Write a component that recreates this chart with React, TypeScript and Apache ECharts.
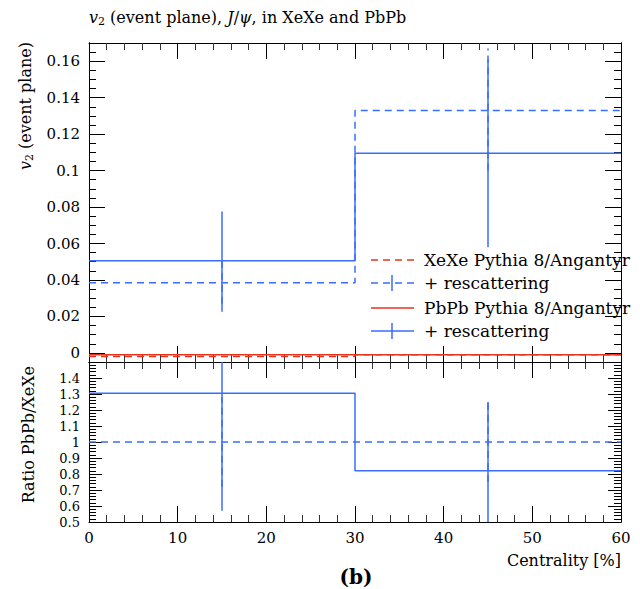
import React, { useEffect, useRef } from "react";
import * as echarts from "echarts";

// ---------- data ----------
const X_EDGES = [0, 30, 60];
const BIN_CENTERS = [15, 45];
const XEXE_PYTHIA = [-0.002, -0.001];
const PBPB_PYTHIA = [-0.001, -0.001];
const XEXE_RESC = [0.0385, 0.133];
const XEXE_RESC_ERR = [[0.027, 0.05], [0.1, 0.167]];
const PBPB_RESC = [0.0505, 0.1095];
const PBPB_RESC_ERR = [[0.0225, 0.0775], [0.058, 0.161]];
const RATIO_XEXE = [1, 1];
const RATIO_XEXE_ERR = [[0.72, 1.28], [0.75, 1.25]];
const RATIO_PBPB = [1.305, 0.82];
const RATIO_PBPB_ERR = [[0.57, 1.9], [0.45, 1.25]];
const MAIN_Y_TICKS = [0, 0.02, 0.04, 0.06, 0.08, 0.1, 0.12, 0.14, 0.16];
const RATIO_Y_TICKS = [0.5, 0.6, 0.7, 0.8, 0.9, 1, 1.1, 1.2, 1.3, 1.4];
const X_TICKS_STEP = 10;
const LEGEND_LABELS = ["XeXe Pythia 8/Angantyr", "+ rescattering", "PbPb Pythia 8/Angantyr", "+ rescattering"];

const MAIN_Y_RANGE = [-0.005, 0.17];
const RATIO_Y_RANGE = [0.5, 1.5];

const RED = "#e8341c";
const BLUE = "#3a6cff";
const FONT = "DejaVu Serif";

function stepData(vals: number[]) {
  const out: number[][] = [];
  for (let i = 0; i < vals.length; i++) out.push([X_EDGES[i], vals[i]]);
  out.push([X_EDGES[X_EDGES.length - 1], vals[vals.length - 1]]);
  return out;
}

function minorValues(lo: number, hi: number, step: number, majorStep: number) {
  const out: number[] = [];
  const n = Math.round((hi - lo) / step);
  for (let i = 0; i <= n; i++) {
    const v = +(lo + i * step).toFixed(6);
    const r = v / majorStep;
    if (Math.abs(r - Math.round(r)) > 1e-6) out.push(v);
  }
  return out;
}

function errSeries(name: string, xi: number, yi: number, errs: number[][], range: number[], color: string, dashed: boolean) {
  return {
    type: "custom",
    name,
    xAxisIndex: xi,
    yAxisIndex: yi,
    silent: true,
    data: BIN_CENTERS.map((c, i) => [c, errs[i][0], errs[i][1]]),
    encode: { x: 0, y: [1, 2] },
    renderItem: (params: any, api: any) => {
      const x = api.value(0);
      const lo = Math.max(api.value(1), range[0]);
      const hi = Math.min(api.value(2), range[1]);
      const p1 = api.coord([x, lo]);
      const p2 = api.coord([x, hi]);
      return {
        type: "line",
        shape: { x1: p1[0], y1: p1[1], x2: p2[0], y2: p2[1] },
        style: { stroke: color, lineWidth: 1.5, lineDash: dashed ? [7, 5] : null },
      };
    },
  };
}

function lineSeries(name: string, xi: number, yi: number, vals: number[], color: string, dashed: boolean) {
  return {
    type: "line",
    name,
    xAxisIndex: xi,
    yAxisIndex: yi,
    step: "end",
    symbol: "none",
    silent: true,
    data: stepData(vals),
    lineStyle: { color, width: 1.5, type: dashed ? [7, 5] : "solid" },
  };
}

const tickCommon = { inside: true, lineStyle: { color: "#000", width: 1 } };

function xAxis(gridIndex: number, position: string, labels: boolean) {
  return {
    type: "value",
    gridIndex,
    position,
    min: 0,
    max: 60,
    interval: X_TICKS_STEP,
    axisLine: { show: true, onZero: false, lineStyle: { color: "#000", width: 1 } },
    axisTick: { ...tickCommon, length: 16 },
    minorTick: { show: true, splitNumber: 5, length: 7, lineStyle: { color: "#333", width: 1 } },
    splitLine: { show: false },
    minorSplitLine: { show: false },
    axisLabel: labels
      ? { show: true, fontFamily: FONT, fontSize: 15, color: "#000", margin: 8 }
      : { show: false },
  };
}

function yAxis(gridIndex: number, position: string, range: number[], ticks: number[], len: number, labels: boolean, fs = 15) {
  return {
    type: "value",
    gridIndex,
    position,
    min: range[0],
    max: range[1],
    axisLine: { show: true, onZero: false, lineStyle: { color: "#000", width: 1 } },
    axisTick: { ...tickCommon, length: len, customValues: ticks },
    splitLine: { show: false },
    axisLabel: labels
      ? {
          show: true,
          customValues: ticks,
          fontFamily: FONT,
          fontSize: fs,
          lineHeight: fs,
          color: "#000",
          margin: 9,
          formatter: (v: number) => String(+v.toFixed(4)),
        }
      : { show: false },
  };
}

export default function App() {
  const ref = useRef<HTMLDivElement>(null);
  useEffect(() => {
    if (!ref.current) return;
    const chart = echarts.init(ref.current, null, { renderer: "svg" });
    const mainMinor = minorValues(MAIN_Y_RANGE[0], MAIN_Y_RANGE[1], 0.005, 0.02);
    const ratioMinor = minorValues(RATIO_Y_RANGE[0], RATIO_Y_RANGE[1], 0.02, 0.1);
    const ratioMajor = [...RATIO_Y_TICKS, 1.5];

    const legendY = [260, 283, 308, 331];
    const legendStyles = [
      { color: RED, dashed: true, bar: false },
      { color: BLUE, dashed: true, bar: true },
      { color: RED, dashed: false, bar: false },
      { color: BLUE, dashed: false, bar: true },
    ];
    const legendGraphics: any[] = [];
    legendStyles.forEach((s, i) => {
      const y = legendY[i];
      legendGraphics.push({
        type: "line",
        silent: true,
        shape: { x1: 371, y1: y, x2: 414, y2: y },
        style: { stroke: s.color, lineWidth: 1.5, lineDash: s.dashed ? [7, 5] : null },
      });
      if (s.bar) {
        legendGraphics.push({
          type: "line",
          silent: true,
          shape: { x1: 392, y1: y - 8, x2: 392, y2: y + 8 },
          style: { stroke: s.color, lineWidth: 1.5 },
        });
      }
      legendGraphics.push({
        type: "text",
        silent: true,
        x: 424,
        y,
        style: { text: LEGEND_LABELS[i], fontFamily: FONT, fontSize: 17, fill: "#000", verticalAlign: "middle", align: "left" },
      });
    });

    chart.setOption({
      animation: false,
      backgroundColor: "#fff",
      grid: [
        { left: 89, right: 19, top: 43, height: 319 },
        { left: 89, right: 19, top: 362, height: 160 },
      ],
      xAxis: [
        xAxis(0, "bottom", false),
        xAxis(0, "top", false),
        xAxis(1, "bottom", true),
        xAxis(1, "top", false),
      ],
      yAxis: [
        yAxis(0, "left", MAIN_Y_RANGE, MAIN_Y_TICKS, 16, true, 15),
        yAxis(0, "left", MAIN_Y_RANGE, mainMinor, 7, false),
        yAxis(0, "right", MAIN_Y_RANGE, MAIN_Y_TICKS, 16, false),
        yAxis(0, "right", MAIN_Y_RANGE, mainMinor, 7, false),
        yAxis(1, "left", RATIO_Y_RANGE, RATIO_Y_TICKS, 13, true, 13),
        yAxis(1, "left", RATIO_Y_RANGE, ratioMinor, 7, false),
        yAxis(1, "right", RATIO_Y_RANGE, ratioMajor, 13, false),
        yAxis(1, "right", RATIO_Y_RANGE, ratioMinor, 7, false),
      ],
      series: [
        lineSeries("XeXe Pythia 8/Angantyr", 0, 0, XEXE_PYTHIA, RED, true),
        lineSeries("PbPb Pythia 8/Angantyr", 0, 0, PBPB_PYTHIA, RED, false),
        lineSeries("XeXe + rescattering", 0, 0, XEXE_RESC, BLUE, true),
        errSeries("XeXe + rescattering err", 0, 0, XEXE_RESC_ERR, MAIN_Y_RANGE, BLUE, true),
        lineSeries("PbPb + rescattering", 0, 0, PBPB_RESC, BLUE, false),
        errSeries("PbPb + rescattering err", 0, 0, PBPB_RESC_ERR, MAIN_Y_RANGE, BLUE, false),
        lineSeries("Ratio XeXe", 2, 4, RATIO_XEXE, BLUE, true),
        errSeries("Ratio XeXe err", 2, 4, RATIO_XEXE_ERR, RATIO_Y_RANGE, BLUE, true),
        lineSeries("Ratio PbPb", 2, 4, RATIO_PBPB, BLUE, false),
        errSeries("Ratio PbPb err", 2, 4, RATIO_PBPB_ERR, RATIO_Y_RANGE, BLUE, false),
      ],
      graphic: [
        {
          type: "text",
          silent: true,
          x: 89,
          y: 17,
          style: {
            text: "{i|v}{s|2} (event plane), {i|J}/{i|ψ}, in XeXe and PbPb",
            fontFamily: FONT,
            fontSize: 16,
            fill: "#000",
            verticalAlign: "middle",
            rich: {
              i: { fontFamily: FONT, fontStyle: "italic", fontSize: 16, lineHeight: 20 },
              s: { fontFamily: FONT, fontSize: 11, verticalAlign: "bottom", lineHeight: 11 },
            },
          },
        },
        {
          type: "text",
          silent: true,
          x: 25,
          y: 42,
          rotation: Math.PI / 2,
          style: {
            text: "{i|v}{s|2} (event plane)",
            fontFamily: FONT,
            fontSize: 16,
            fill: "#000",
            align: "right",
            verticalAlign: "middle",
            rich: {
              i: { fontFamily: FONT, fontStyle: "italic", fontSize: 16, lineHeight: 20 },
              s: { fontFamily: FONT, fontSize: 11, verticalAlign: "bottom", lineHeight: 11 },
            },
          },
        },
        {
          type: "text",
          silent: true,
          x: 28,
          y: 366,
          rotation: Math.PI / 2,
          style: { text: "Ratio PbPb/XeXe", fontFamily: FONT, fontSize: 16, fill: "#000", align: "right", verticalAlign: "middle" },
        },
        {
          type: "text",
          silent: true,
          x: 621,
          y: 560,
          style: { text: "Centrality [%]", fontFamily: FONT, fontSize: 16, fill: "#000", align: "right", verticalAlign: "middle" },
        },
        {
          type: "text",
          silent: true,
          x: 356,
          y: 577,
          style: { text: "(b)", fontFamily: FONT, fontSize: 20, fontWeight: "bold", fill: "#000", align: "center", verticalAlign: "middle" },
        },
        ...legendGraphics,
      ],
    });
    return () => chart.dispose();
  }, []);
  return (
    <div
      ref={ref}
      style={{ position: "fixed", left: 0, top: 0, width: 640, height: 589, background: "#fff" }}
    />
  );
}
